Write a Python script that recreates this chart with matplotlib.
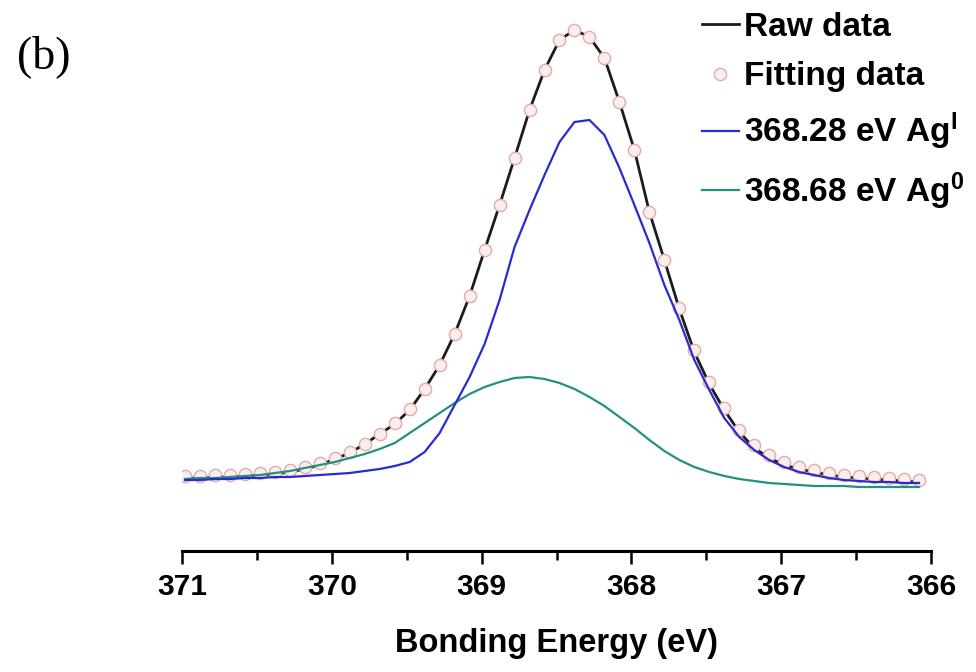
import matplotlib
matplotlib.use("Agg")
import matplotlib.pyplot as plt
from matplotlib.ticker import MultipleLocator

# ---- data (intensity in arbitrary units) ----
energy = [370.98, 370.88, 370.78, 370.68, 370.58, 370.48, 370.38, 370.28, 370.18, 370.08,
          369.98, 369.88, 369.78, 369.68, 369.58, 369.48, 369.38, 369.28, 369.18, 369.08,
          368.98, 368.88, 368.78, 368.68, 368.58, 368.48, 368.38, 368.28, 368.18, 368.08,
          367.98, 367.88, 367.78, 367.68, 367.58, 367.48, 367.38, 367.28, 367.18, 367.08,
          366.98, 366.88, 366.78, 366.68, 366.58, 366.48, 366.38, 366.28, 366.18, 366.08]

raw_data = [12, 12, 13, 13, 14, 15, 16, 18, 21, 25,
            31, 37, 46, 56, 66, 80, 101, 125, 156, 194,
            240, 285, 332, 380, 420, 450, 460, 453, 432, 388,
            340, 278, 230, 181, 138, 106, 80, 58, 42, 32,
            25, 21, 18, 15, 13, 12, 11, 10, 9, 8]

fitting_data = [14, 14, 15, 15, 16, 17, 18, 20, 23, 27,
                32, 38, 46, 56, 67, 81, 101, 125, 156, 194,
                240, 285, 332, 380, 420, 450, 460, 453, 432, 388,
                340, 278, 230, 182, 140, 108, 82, 60, 45, 35,
                28, 23, 20, 17, 15, 14, 13, 12, 11, 10]

ag_I = [10, 10, 11, 11, 12, 12, 13, 13, 14, 15,
        16, 17, 19, 21, 24, 28, 38, 57, 85, 113,
        146, 190, 243, 280, 315, 348, 368, 370, 355, 322,
        285, 247, 205, 170, 130, 100, 72, 53, 40, 30,
        23, 18, 15, 12, 10, 9, 8, 8, 7, 7]

ag_0 = [11, 12, 12, 13, 14, 15, 17, 19, 22, 25,
        28, 32, 36, 41, 47, 57, 67, 77, 87, 96,
        103, 108, 112, 113, 111, 107, 101, 93, 84, 73,
        62, 50, 39, 30, 23, 18, 14, 11, 9, 7,
        6, 5, 4, 4, 4, 3, 3, 3, 3, 3]

labels = ["Raw data", "Fitting data", "368.28 eV Ag$^{\\mathrm{I}}$", "368.68 eV Ag$^{\\mathrm{0}}$"]
xticks = [371, 370, 369, 368, 367, 366]

plt.rcParams['font.family'] = ['Liberation Sans', 'DejaVu Sans']
plt.rcParams['font.weight'] = 'bold'
plt.rcParams['mathtext.fontset'] = 'custom'
plt.rcParams['mathtext.rm'] = 'Liberation Sans:bold'
plt.rcParams['mathtext.bf'] = 'Liberation Sans:bold'
plt.rcParams['mathtext.it'] = 'Liberation Sans:bold'

fig = plt.figure(figsize=(9.76, 6.72), dpi=100)
ax = fig.add_axes([182/976, (672-551)/672, (931-182)/976, (551-20)/672])

ax.plot(energy, raw_data, color='#1c1c1c', lw=2.0, zorder=1, label=labels[0])
ax.plot(energy, fitting_data, linestyle='none', marker='o', ms=8.8,
        mfc='#fdeeee', mec='#e2aaa8', mew=1.0, zorder=2, label=labels[1])
ax.plot(energy, ag_I, color='#2a2ad2', lw=1.6, zorder=4, label=labels[2])
ax.plot(energy, ag_0, color='#23917f', lw=1.6, zorder=3, label=labels[3])

ax.set_xlim(371, 366)
ax.set_ylim(-61, 470)
ax.set_xticks(xticks)
ax.set_xticklabels([str(t) for t in xticks])
ax.xaxis.set_minor_locator(MultipleLocator(0.5))
ax.set_yticks([])
for s in ['left', 'right', 'top']:
    ax.spines[s].set_visible(False)
ax.spines['bottom'].set_linewidth(2.2)
ax.tick_params(axis='x', which='major', length=9.5, width=1.8, pad=6, labelsize=21.5, direction='out')
ax.tick_params(axis='x', which='minor', length=6.5, width=1.8, direction='out')
for lab in ax.get_xticklabels():
    lab.set_fontweight('bold')
ax.set_xlabel('Bonding Energy (eV)', fontsize=23.5, fontweight='bold', labelpad=20)

leg = fig.legend(loc='upper left', bbox_to_anchor=(702/976, 1 - 12/672),
                 frameon=False, fontsize=24, handlelength=1.1, handletextpad=0.15,
                 borderpad=0, borderaxespad=0, labelspacing=0.55, numpoints=1)
for t in leg.get_texts():
    t.set_fontweight('bold')

fig.text(17/976, 1 - 68/672, '(b)', fontsize=33, family='Liberation Serif', fontweight='normal')

fig.savefig('out.png', dpi=100)
